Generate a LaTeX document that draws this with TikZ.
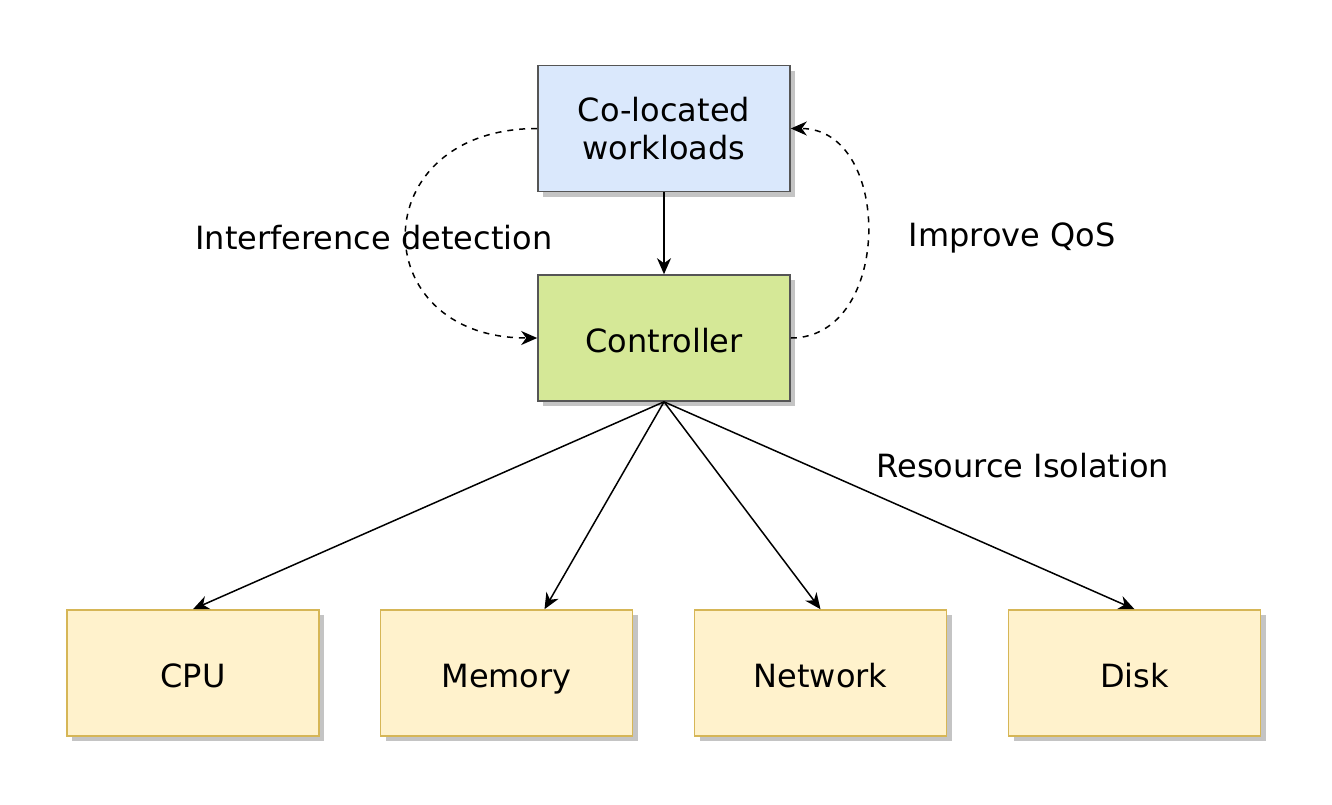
\documentclass[tikz,border=0pt]{standalone}
\usepackage{fontspec}
\setmainfont{DejaVu Sans}
\usetikzlibrary{arrows.meta,shadows}
\definecolor{wlfill}{HTML}{DAE8FC}
\definecolor{ctfill}{HTML}{D5E897}
\definecolor{resfill}{HTML}{FFF2CC}
\definecolor{resline}{HTML}{D6B656}
\definecolor{boxline}{HTML}{555555}
\definecolor{shade}{HTML}{C4C4C4}
\begin{document}
\begin{tikzpicture}[x=0.5pt,y=-0.5pt,
  box/.style={rectangle, minimum width=126pt, minimum height=63pt, inner sep=0pt,
    line width=0.8pt, font=\fontsize{16}{19}\selectfont, align=center,
    text height=16pt, text depth=1.5pt,
    drop shadow={shadow xshift=2.5pt, shadow yshift=-2.5pt, fill=shade, opacity=1}},
  topbox/.style={box, fill=wlfill, draw=boxline, text height=, text depth=},
  ctrlbox/.style={box, fill=ctfill, draw=boxline},
  resbox/.style={box, fill=resfill, draw=resline},
  link/.style={line width=0.75pt, -{Stealth[length=8pt,width=7pt,inset=2.5pt]}},
  dlink/.style={link, dash pattern=on 3pt off 3pt},
  lbl/.style={font=\fontsize{16}{19}\selectfont}]
\useasboundingbox (0,0) rectangle (1332,804);

\node[topbox] (wl) at (664,128.5) {Co-located\\workloads};
\node[ctrlbox] (ctrl) at (664,338) {Controller};

\node[resbox] (cpu) at (193,673) {CPU};
\node[resbox] (mem) at (506.5,673) {Memory};
\node[resbox] (net) at (820.5,673) {Network};
\node[resbox] (disk) at (1134.5,673) {Disk};

\draw[link] (wl.south) -- (ctrl.north);

\draw[dlink] (wl.west) .. controls (363,128.5) and (363,338) .. (ctrl.west);
\draw[dlink] (ctrl.east) .. controls (893,338) and (893,128.5) .. (wl.east);

\draw[link] (ctrl.south) -- (cpu.north);
\draw[link] (ctrl.south) -- ([xshift=19pt]mem.north);
\draw[link] (ctrl.south) -- (net.north);
\draw[link] (ctrl.south) -- (disk.north);

\node[lbl] (ld) at (374,238) {Interference detection};
\node[lbl] (lq) at (1012,238) {Improve QoS};
\node[lbl] (lr) at (1023,466) {Resource Isolation};
\end{tikzpicture}
\end{document}
